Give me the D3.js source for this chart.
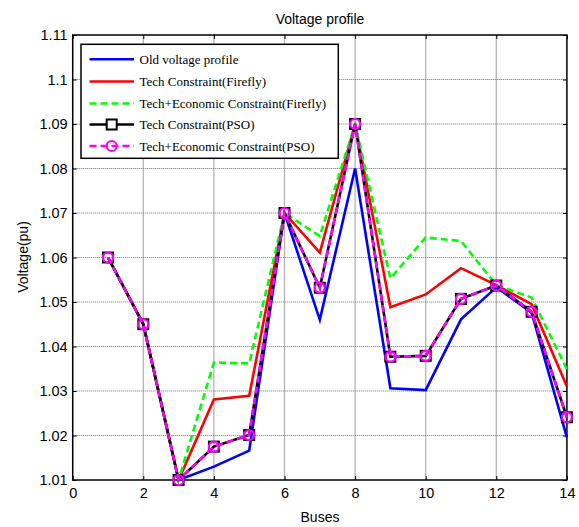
<!DOCTYPE html>
<html><head><meta charset="utf-8">
<script src="https://cdn.jsdelivr.net/npm/d3@7"></script>
<style>body{margin:0;background:#fff}svg{display:block}</style>
</head><body>
<script>
const buses = [1,2,3,4,5,6,7,8,9,10,11,12,13,14];
const oldVoltage   = [1.06,1.045,1.01,1.013,1.0166,1.07,1.046,1.08,1.0306,1.0302,1.0461,1.0533,1.0476,1.0196];
const techFirefly  = [1.06,1.045,1.01,1.0281,1.0289,1.07,1.0611,1.09,1.0488,1.0517,1.0576,1.0538,1.0495,1.031];
const econFirefly  = [1.06,1.045,1.01,1.0364,1.0362,1.07,1.0648,1.09,1.0553,1.0645,1.0637,1.0538,1.051,1.0349];
const techPSO      = [1.06,1.045,1.01,1.0175,1.0201,1.07,1.0532,1.09,1.0377,1.0379,1.0507,1.0537,1.0478,1.0241];
const econPSO      = [1.06,1.045,1.01,1.0175,1.0201,1.07,1.0532,1.09,1.0377,1.0379,1.0507,1.0537,1.0478,1.0241];
const xTicks = [0,2,4,6,8,10,12,14];
const yTicks = [1.01,1.02,1.03,1.04,1.05,1.06,1.07,1.08,1.09,1.1,1.11];
const legendLabels = ["Old voltage profile","Tech Constraint(Firefly)","Tech+Economic Constraint(Firefly)","Tech Constraint(PSO)","Tech+Economic Constraint(PSO)"];

const W=579,H=527;
const L=72.7,R=566.9,T=35,B=480;
const svg=d3.select("body").append("svg").attr("width",W).attr("height",H);
const x=d3.scaleLinear().domain([0,14]).range([L,R]);
const y=d3.scaleLinear().domain([1.01,1.11]).range([B,T]);

// grid
svg.append("g").selectAll("line").data(xTicks.slice(1,-1)).join("line")
  .attr("x1",d=>x(d)).attr("x2",d=>x(d)).attr("y1",T).attr("y2",B)
  .attr("stroke","#b4b4b4").attr("stroke-width",1.3);
svg.append("g").selectAll("line").data(yTicks.slice(1,-1)).join("line")
  .attr("x1",L).attr("x2",R).attr("y1",d=>y(d)).attr("y2",d=>y(d))
  .attr("stroke","#707070").attr("stroke-width",1.1).attr("stroke-dasharray","1,1");

// axes
const fontAx='"Liberation Sans", Arial, sans-serif';
const xAx=svg.append("g").attr("transform",`translate(0,${B})`)
  .call(d3.axisBottom(x).tickValues(xTicks).tickSize(-4).tickPadding(8).tickFormat(d3.format("d")));
const xAxT=svg.append("g").attr("transform",`translate(0,${T})`)
  .call(d3.axisTop(x).tickValues(xTicks).tickSize(-4).tickFormat(""));
const yAx=svg.append("g").attr("transform",`translate(${L},0)`)
  .call(d3.axisLeft(y).tickValues(yTicks).tickSize(-4).tickPadding(5).tickFormat(d=>d3.format("")(+d.toFixed(2))));
const yAxR=svg.append("g").attr("transform",`translate(${R},0)`)
  .call(d3.axisRight(y).tickValues(yTicks).tickSize(-4).tickFormat(""));
[xAx,xAxT,yAx,yAxR].forEach(g=>{
  g.select(".domain").remove();
  g.selectAll("line").attr("stroke","#000").attr("stroke-width",1);
  g.selectAll("text").attr("font-family",fontAx).attr("font-size",14.5).attr("fill","#000");
});
svg.append("rect").attr("x",L).attr("y",T).attr("width",R-L).attr("height",B-T)
  .attr("fill","none").attr("stroke","#000").attr("stroke-width",1.5);

// titles
svg.append("text").attr("x",320).attr("y",24).attr("text-anchor","middle")
  .attr("font-family",fontAx).attr("font-size",14).text("Voltage profile");
svg.append("text").attr("x",320).attr("y",522).attr("text-anchor","middle")
  .attr("font-family",fontAx).attr("font-size",14).text("Buses");
svg.append("text").attr("transform","translate(28,257) rotate(-90)").attr("text-anchor","middle")
  .attr("font-family",fontAx).attr("font-size",14).text("Voltage(pu)");

// series
const line=d3.line().x((d,i)=>x(buses[i])).y(d=>y(d));
const series=[
  {v:oldVoltage,c:"#0000ff",w:2.6,dash:null},
  {v:techFirefly,c:"#ff0000",w:2.6,dash:null},
  {v:econFirefly,c:"#00ff00",w:2.6,dash:"7,4"},
  {v:techPSO,c:"#000000",w:2.6,dash:null,mark:"sq"},
  {v:econPSO,c:"#ff00ff",w:2.6,dash:"7,4",mark:"ci"}
];
series.forEach(s=>{
  svg.append("path").attr("d",line(s.v)).attr("fill","none").attr("stroke",s.c)
    .attr("stroke-width",s.w).attr("stroke-dasharray",s.dash);
  if(s.mark==="sq"){
    svg.append("g").selectAll("rect").data(s.v).join("rect")
      .attr("x",(d,i)=>x(buses[i])-5).attr("y",d=>y(d)-5).attr("width",10).attr("height",10)
      .attr("fill","none").attr("stroke","#000").attr("stroke-width",2);
  } else if(s.mark==="ci"){
    svg.append("g").selectAll("circle").data(s.v).join("circle")
      .attr("cx",(d,i)=>x(buses[i])).attr("cy",d=>y(d)).attr("r",5)
      .attr("fill","none").attr("stroke","#ff00ff").attr("stroke-width",2.2);
  }
});

// legend
const lg=svg.append("g");
lg.append("rect").attr("x",81).attr("y",44.3).attr("width",257.3).attr("height",114)
  .attr("fill","#fff").attr("stroke","#000").attr("stroke-width",1.5);
const rowsY=[59.3,81.5,103.5,124.5,146];
legendLabels.forEach((lab,i)=>{
  const s=series[i], yy=rowsY[i];
  lg.append("line").attr("x1",89.5).attr("x2",134).attr("y1",yy).attr("y2",yy)
    .attr("stroke",s.c).attr("stroke-width",s.w).attr("stroke-dasharray",s.dash);
  if(s.mark==="sq") lg.append("rect").attr("x",111.7-5).attr("y",yy-5).attr("width",10).attr("height",10)
    .attr("fill","#fff").attr("stroke","#000").attr("stroke-width",2);
  if(s.mark==="ci") lg.append("circle").attr("cx",111.7).attr("cy",yy).attr("r",5)
    .attr("fill","none").attr("stroke","#ff00ff").attr("stroke-width",2.2);
  lg.append("text").attr("x",139.5).attr("y",yy+4.5)
    .attr("font-family",'"Liberation Serif","Times New Roman",serif').attr("font-size",13)
    .text(lab);
});
</script>
</body></html>
